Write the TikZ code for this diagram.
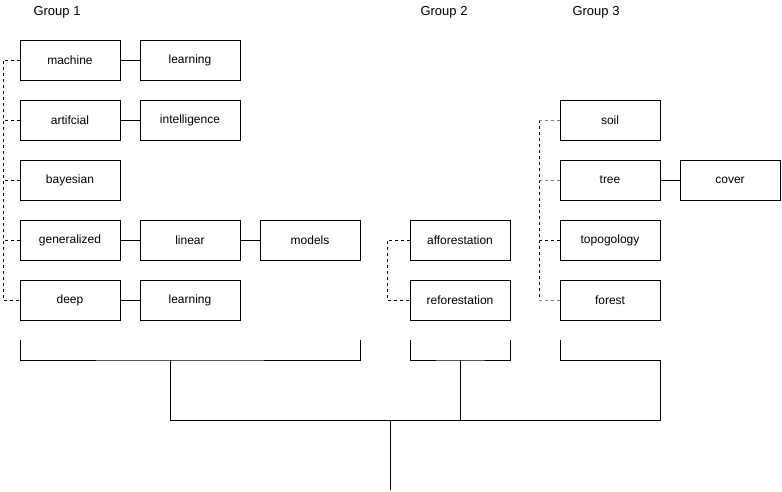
\documentclass[tikz,border=0pt]{standalone}
\usepackage{fontspec}
\setmainfont{Liberation Sans}
\usetikzlibrary{positioning}
\tikzset{
  word/.style={draw=black,line width=1pt,minimum width=100pt,minimum height=40pt,
    inner sep=0pt,outer sep=0pt,font=\fontsize{12}{14}\selectfont},
  link/.style={line width=1pt},
  member/.style={line width=0.8pt,dash pattern=on 3pt off 3pt},
  grouplabel/.style={anchor=west,font=\fontsize{13}{15}\selectfont}
}

\begin{document}
\begin{tikzpicture}[x=1pt,y=-1pt]
  \useasboundingbox (0,0) rectangle (782,491);
  % group titles
  \node[grouplabel] (title1) at (30,12) {Group 1};
  \node[grouplabel] (title2) at (417,12) {Group 2};
  \node[grouplabel] (title3) at (569,12) {Group 3};

  % group 1
  \node[word] (machine) at (70,60) {machine};
  \node[word,right=20pt of machine] (learning) {learning};
  \node[word,below=20pt of machine] (artifcial) {artifcial};
  \node[word,right=20pt of artifcial] (intelligence) {intelligence};
  \node[word,below=20pt of artifcial] (bayesian) {bayesian};
  \node[word,below=20pt of bayesian] (generalized) {generalized};
  \node[word,right=20pt of generalized] (linear) {linear};
  \node[word,right=20pt of linear] (models) {models};
  \node[word,below=20pt of generalized] (deep) {deep};
  \node[word,right=20pt of deep] (learningB) {learning};

  % group 2
  \node[word] (afforestation) at (460,240) {afforestation};
  \node[word,below=20pt of afforestation] (reforestation) {reforestation};

  % group 3
  \node[word] (soil) at (610,120) {soil};
  \node[word,below=20pt of soil] (tree) {tree};
  \node[word,right=20pt of tree] (cover) {cover};
  \node[word,below=20pt of tree] (topogology) {topogology};
  \node[word,below=20pt of topogology] (forest) {forest};

  % words joined into terms
  \draw[link] (machine) -- (learning);
  \draw[link] (artifcial) -- (intelligence);
  \draw[link] (generalized) -- (linear);
  \draw[link] (linear) -- (models);
  \draw[link] (deep) -- (learningB);
  \draw[link] (tree) -- (cover);

  % dashed membership lines
  \draw[member] (machine.west) -- ++(-17,0) coordinate (rail1) |- (deep.west);
  \foreach \w in {artifcial,bayesian,generalized}
    \draw[member] (\w.west) -- (\w.west -| rail1);
  \draw[member] (afforestation.west) -- ++(-23,0) |- (reforestation.west);
  \draw[member] (soil.west) ++(-21,0) coordinate (rail3) -- (rail3 |- forest.west);
  \foreach \w in {soil,tree,forest}
    \draw[member,gray] (\w.west) -- (\w.west -| rail3);
  \draw[member] (topogology.west) -- (topogology.west -| rail3);

  % brackets
  \coordinate (drop1) at (170,360);
  \coordinate (drop2) at (460,360);
  \coordinate (drop3) at (660,360);
  \coordinate (root) at (390,420);
  \coordinate (rootend) at (390,490);
  \draw[link] (20,340) |- (drop1) -| (360,340);
  \draw[link] (410,340) |- (drop2) -| (510,340);
  \draw[link] (560,340) |- (drop3);
  \draw[link] (drop1) -- (drop1 |- root) -- (drop3 |- root) -- (drop3);
  \draw[link] (drop2) -- (drop2 |- root);
  \draw[link] (root) -- (rootend);
\end{tikzpicture}
\end{document}
